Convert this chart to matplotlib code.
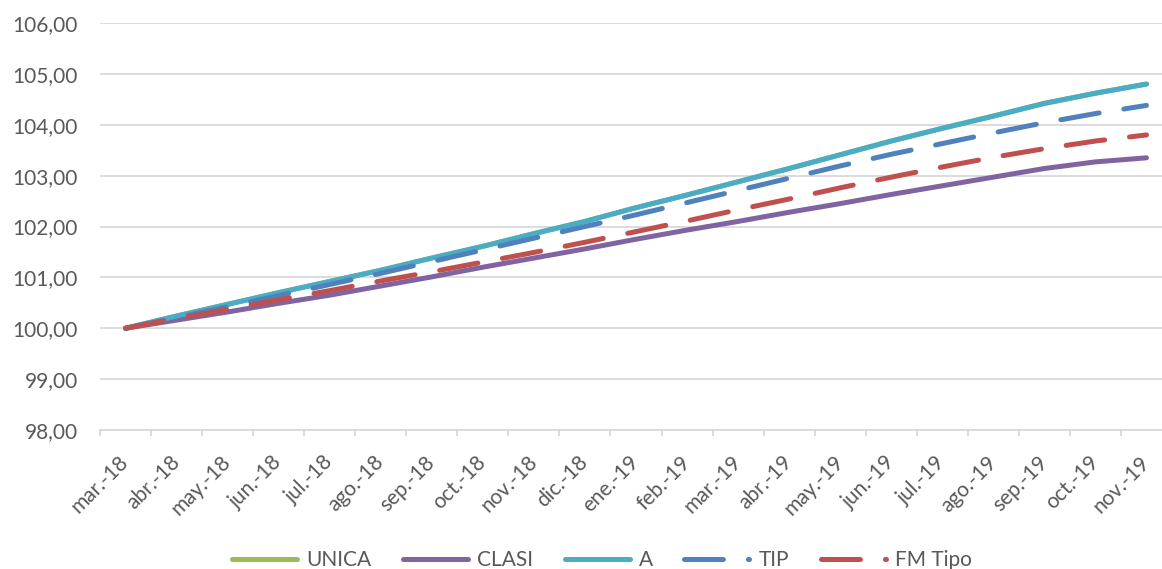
import matplotlib
matplotlib.use("Agg")
import matplotlib.pyplot as plt
from matplotlib.lines import Line2D
from matplotlib.ticker import FuncFormatter, FixedLocator

plt.rcParams['font.family'] = ['Lato', 'DejaVu Sans']
plt.rcParams['lines.scale_dashes'] = False

months = ['mar.-18', 'abr.-18', 'may.-18', 'jun.-18', 'jul.-18', 'ago.-18',
          'sep.-18', 'oct.-18', 'nov.-18', 'dic.-18', 'ene.-19', 'feb.-19',
          'mar.-19', 'abr.-19', 'may.-19', 'jun.-19', 'jul.-19', 'ago.-19',
          'sep.-19', 'oct.-19', 'nov.-19']

serie_a = [100.00, 100.24, 100.47, 100.70, 100.92, 101.14, 101.38, 101.61,
           101.86, 102.10, 102.37, 102.62, 102.88, 103.14, 103.41, 103.68,
           103.93, 104.17, 104.42, 104.62, 104.80]
serie_unica = list(serie_a)
serie_clasi = [100.00, 100.16, 100.32, 100.49, 100.65, 100.83, 101.01, 101.20,
               101.38, 101.56, 101.75, 101.93, 102.10, 102.28, 102.45, 102.63,
               102.80, 102.97, 103.14, 103.27, 103.35]
serie_tip = [100.00, 100.21, 100.42, 100.64, 100.86, 101.08, 101.31, 101.54,
             101.77, 102.00, 102.23, 102.47, 102.71, 102.95, 103.19, 103.42,
             103.63, 103.84, 104.04, 104.22, 104.38]
serie_fm = [100.00, 100.19, 100.37, 100.56, 100.74, 100.93, 101.11, 101.30,
            101.49, 101.69, 101.90, 102.11, 102.33, 102.54, 102.76, 102.97,
            103.17, 103.36, 103.53, 103.68, 103.80]

series = [
    ('UNICA', serie_unica, '#9BBB59', None),
    ('CLASI', serie_clasi, '#8064A2', None),
    ('A', serie_a, '#4BACC6', None),
    ('TIP', serie_tip, '#4F81BD', (28, 18)),
    ('FM Tipo', serie_fm, '#C0504D', (28, 18)),
]

W, H = 1162, 569
fig = plt.figure(figsize=(W / 100, H / 100), dpi=100)
ax = fig.add_axes([100 / W, 1 - 430 / H, 1072 / W, (430 - 23) / H])

grid_col = '#D9D9D9'
text_col = '#595959'
lw = 3.6
x = list(range(len(months)))

handles = []
for name, vals, col, dash in series:
    kw = dict(color=col, lw=lw, solid_capstyle='round', dash_capstyle='round',
              solid_joinstyle='round', dash_joinstyle='round')
    if dash:
        kw['dashes'] = dash
    ax.plot(x, vals, **kw)
    handles.append(Line2D([], [], label=name, **kw))

ax.set_xlim(-0.5, len(months) - 0.5)
ax.set_ylim(98, 106)
ax.set_yticks(range(98, 107))
ax.yaxis.set_major_formatter(FuncFormatter(lambda v, p: f'{v:.2f}'.replace('.', ',')))
ax.grid(axis='y', color=grid_col, lw=1.3)
ax.set_axisbelow(True)

ax.set_xticks(x)
ax.set_xticklabels(months, rotation=45, ha='right', va='center',
                   rotation_mode='anchor')
ax.xaxis.set_minor_locator(FixedLocator([i - 0.5 for i in range(len(months) + 1)]))
ax.tick_params(axis='x', which='major', length=0, pad=21, labelsize=15,
               labelcolor=text_col)
ax.tick_params(axis='x', which='minor', length=4.5, width=1.3, color=grid_col,
               direction='out')
ax.tick_params(axis='y', length=0, pad=16, labelsize=15, labelcolor=text_col)

for s in ['top', 'right', 'left']:
    ax.spines[s].set_visible(False)
ax.spines['bottom'].set_color(grid_col)
ax.spines['bottom'].set_linewidth(1.3)

fig.legend(handles=handles, loc='center',
           bbox_to_anchor=(602 / W, (H - 560) / H),
           ncol=5, frameon=False, fontsize=15, handlelength=3.12,
           handletextpad=0.45, columnspacing=1.5, labelcolor=text_col,
           borderpad=0, borderaxespad=0)

fig.savefig('out.png', dpi=100)
